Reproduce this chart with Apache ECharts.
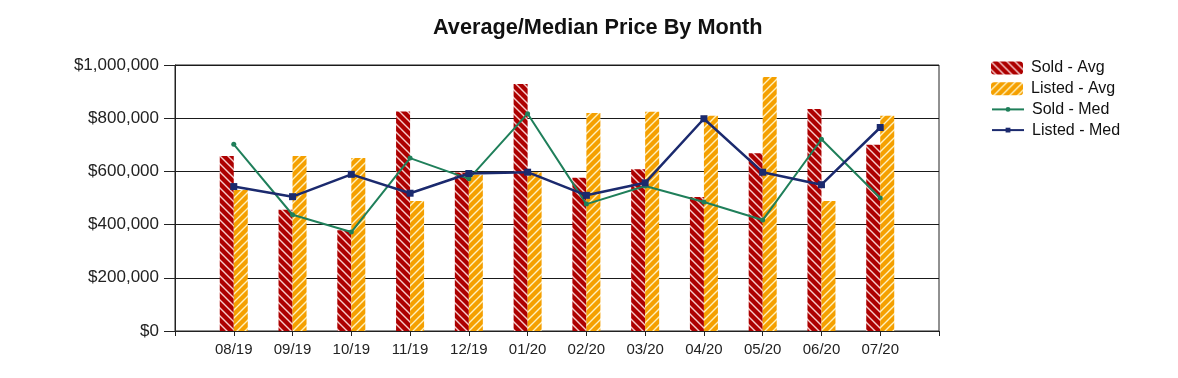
<!DOCTYPE html>
<html>
<head>
<meta charset="utf-8">
<script src="https://cdn.jsdelivr.net/npm/echarts@6/dist/echarts.min.js"></script>
<style>
html,body{margin:0;padding:0;background:#fff;}
#c{width:1178px;height:378px;}
</style>
</head>
<body>
<div id="c"></div>
<script>
const months = ['08/19','09/19','10/19','11/19','12/19','01/20','02/20','03/20','04/20','05/20','06/20','07/20'];
const soldAvg   = [658000, 456000, 379000, 825000, 596000, 929000, 576000, 608000, 504000, 668000, 835000, 700000];
const listedAvg = [530000, 658000, 650000, 489000, 587000, 597000, 820000, 824000, 809000, 955000, 489000, 809000];
const soldMed   = [702000, 437000, 372000, 650000, 572000, 817000, 477000, 545000, 485000, 417000, 721000, 500000];
const listedMed = [543000, 505000, 589000, 518000, 592000, 597000, 510000, 557000, 798000, 597000, 550000, 765000];
const seriesNames = ['Sold - Avg', 'Listed - Avg', 'Sold - Med', 'Listed - Med'];

function hatch(bg, fg, dir) {
  const s = 8;
  const cv = document.createElement('canvas');
  cv.width = s; cv.height = s;
  const ctx = cv.getContext('2d');
  ctx.fillStyle = bg; ctx.fillRect(0, 0, s, s);
  ctx.strokeStyle = fg; ctx.lineWidth = 1.4;
  ctx.beginPath();
  if (dir === 'back') {
    ctx.moveTo(-1, -1); ctx.lineTo(s + 1, s + 1);
    ctx.moveTo(-1, s - 1); ctx.lineTo(1, s + 1);
    ctx.moveTo(s - 1, -1); ctx.lineTo(s + 1, 1);
  } else {
    ctx.moveTo(-1, s + 1); ctx.lineTo(s + 1, -1);
    ctx.moveTo(-1, 1); ctx.lineTo(1, -1);
    ctx.moveTo(s - 1, s + 1); ctx.lineTo(s + 1, s - 1);
  }
  ctx.stroke();
  return cv;
}

// pad one empty slot at each end so the months sit on ticks 1..12 of 13 intervals
const cats = [''].concat(months, ['']);
const pad = a => [null].concat(a, [null]);

const chart = echarts.init(document.getElementById('c'));
const font = 'Liberation Sans, Arial, sans-serif';
const legendText = {fontFamily: font, fontSize: 16, color: '#111', padding: [0, 0, 0, 3]};
chart.setOption({
  animation: false,
  backgroundColor: '#fff',
  title: {
    text: 'Average/Median Price By Month',
    left: 428, top: 12,
    textStyle: {fontFamily: font, fontSize: 21.7, fontWeight: 'bold', color: '#111'}
  },
  legend: [{
    orient: 'vertical', left: 991, top: 60, padding: 0,
    itemWidth: 32, itemHeight: 13, itemGap: 4.7,
    data: seriesNames.slice(0, 2),
    textStyle: legendText
  }, {
    orient: 'vertical', left: 991, top: 101.4, padding: 0,
    itemWidth: 32, itemHeight: 6, itemGap: 4.7,
    data: seriesNames.slice(2),
    textStyle: legendText
  }],
  grid: {left: 175, right: 239, top: 65, bottom: 47, show: true, borderColor: '#222', borderWidth: 1},
  xAxis: {
    type: 'category', data: cats, boundaryGap: false,
    axisLine: {lineStyle: {color: '#222', width: 1}},
    axisTick: {show: true, length: 5, lineStyle: {color: '#222'}, interval: 0},
    axisLabel: {fontFamily: font, fontSize: 15, color: '#222', margin: 11, interval: 0},
    splitLine: {show: false}
  },
  yAxis: {
    type: 'value', min: 0, max: 1000000, interval: 200000,
    axisLine: {show: true, lineStyle: {color: '#222', width: 1}},
    axisTick: {show: true, length: 11, lineStyle: {color: '#222'}},
    axisLabel: {fontFamily: font, fontSize: 17, color: '#222', margin: 16,
      formatter: v => '$' + v.toLocaleString('en-US')},
    splitLine: {show: true, lineStyle: {color: '#1a1a1a', width: 1.2}}
  },
  series: [
    {name: seriesNames[0], type: 'bar', data: pad(soldAvg), barWidth: 14, barGap: '0%',
      itemStyle: {color: {image: hatch('#AD0000', 'rgba(255,225,225,0.9)', 'back'), repeat: 'repeat'}}},
    {name: seriesNames[1], type: 'bar', data: pad(listedAvg), barWidth: 14, barGap: '0%',
      itemStyle: {color: {image: hatch('#F5A000', 'rgba(255,245,200,0.95)', 'fwd'), repeat: 'repeat'}}},
    {name: seriesNames[2], type: 'line', data: pad(soldMed), symbol: 'circle', symbolSize: 5,
      lineStyle: {color: '#1F7F5A', width: 2}, itemStyle: {color: '#1F7F5A'}, z: 3},
    {name: seriesNames[3], type: 'line', data: pad(listedMed), symbol: 'rect', symbolSize: 7,
      lineStyle: {color: '#1B2A6E', width: 2.5}, itemStyle: {color: '#1B2A6E'}, z: 4}
  ]
});
</script>
</body>
</html>
